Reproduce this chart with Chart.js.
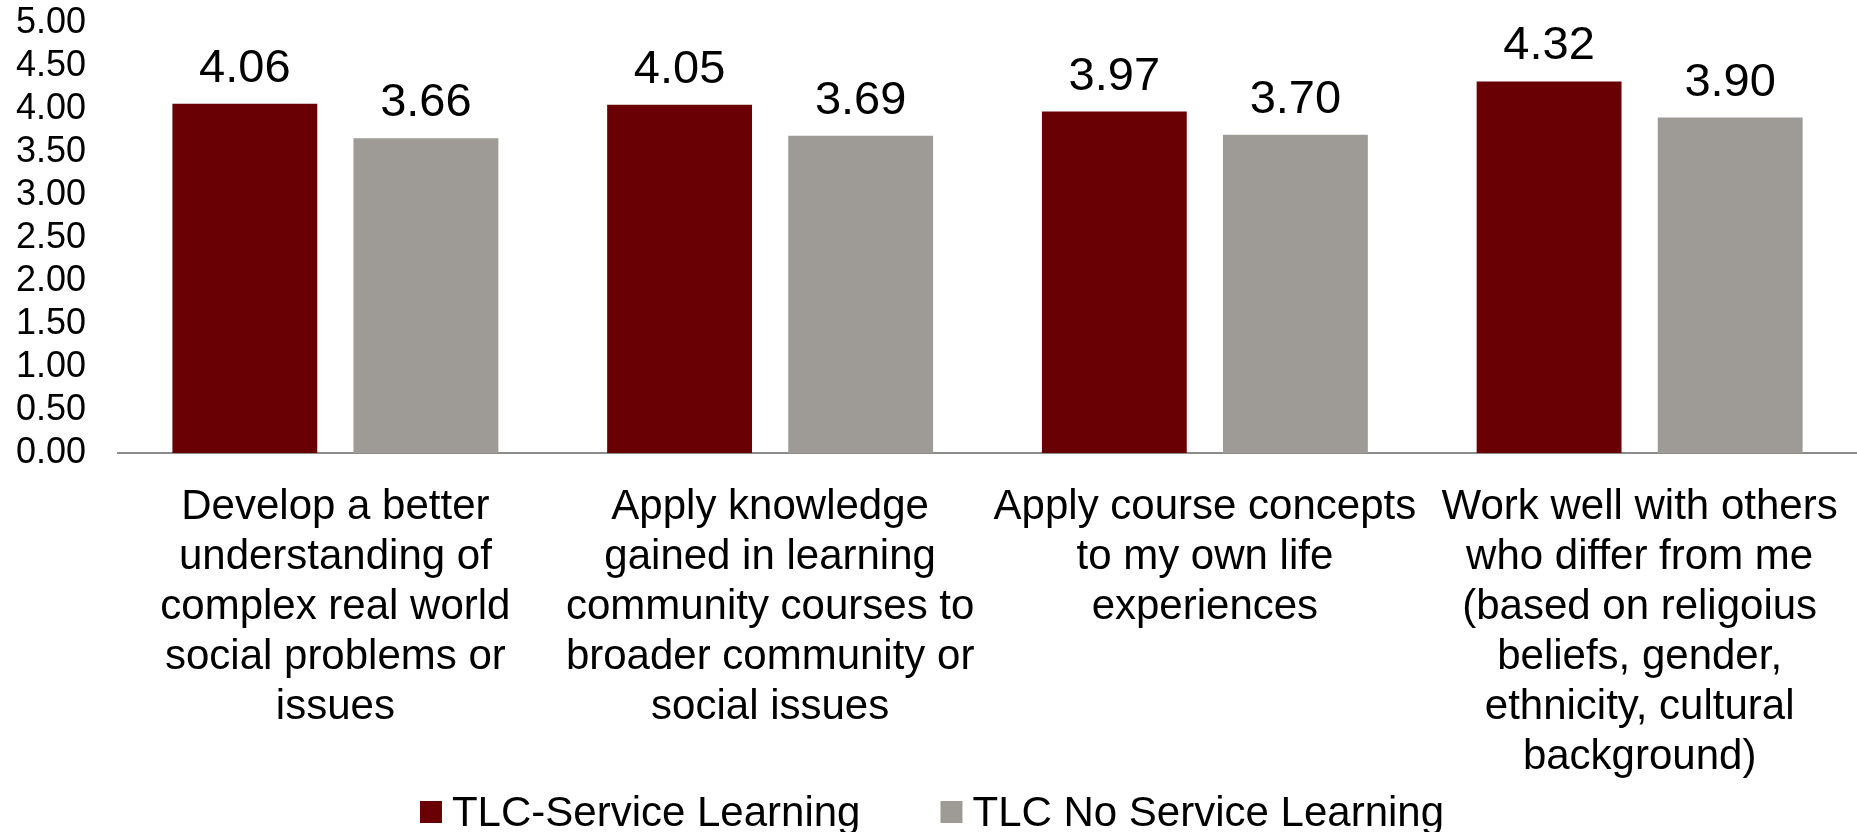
<!DOCTYPE html>
<html>
<head>
<meta charset="utf-8">
<script src="https://cdn.jsdelivr.net/npm/chart.js@4"></script>
<style>
    html, body { margin: 0; padding: 0; background: #fff; }
    #wrap { width: 1857px; height: 832px; }
</style>
</head>
<body>
<div id="wrap"><canvas id="chart" width="1857" height="832"></canvas></div>
<script>
// Datos
const CATEGORIES = [
    ['Develop a better', 'understanding of', 'complex real world', 'social problems or', 'issues'],
    ['Apply knowledge', 'gained in learning', 'community courses to', 'broader community or', 'social issues'],
    ['Apply course concepts', 'to my own life', 'experiences'],
    ['Work well with others', 'who differ from me', '(based on religoius', 'beliefs, gender,', 'ethnicity, cultural', 'background)']
];
const SERIES_NAMES = ['TLC-Service Learning', 'TLC No Service Learning'];
const SERVICE_VALUES = [4.06, 4.05, 3.97, 4.32];
const NO_SERVICE_VALUES = [3.66, 3.69, 3.70, 3.90];
const Y_MIN = 0;
const Y_MAX = 5;
const Y_STEP = 0.5;

// Estilos
const FONT = '"Liberation Sans", Arial, sans-serif';
const COLORS = ['#680004', '#9e9b96'];

// Etiquetas de valor encima de cada barra
const valueLabels = {
    id: 'valueLabels',
    afterDatasetsDraw(chart) {
        const ctx = chart.ctx;
        ctx.save();
        ctx.font = '47px ' + FONT;
        ctx.fillStyle = '#000';
        ctx.textAlign = 'center';
        ctx.textBaseline = 'alphabetic';
        chart.data.datasets.forEach((ds, i) => {
            chart.getDatasetMeta(i).data.forEach((bar, j) => {
                ctx.fillText(ds.data[j].toFixed(2), bar.x, bar.y - 22);
            });
        });
        ctx.restore();
    }
};

// Leyenda abajo, cuadro pequeño y texto pegado
const bottomLegend = {
    id: 'bottomLegend',
    afterDraw(chart) {
        const ctx = chart.ctx;
        const box = 22, gap = 10, spacing = 80;
        const y = 812;
        ctx.save();
        ctx.font = '42px ' + FONT;
        ctx.textBaseline = 'middle';
        ctx.textAlign = 'left';
        const widths = chart.data.datasets.map(ds => box + gap + ctx.measureText(ds.label).width);
        const total = widths.reduce((a, b) => a + b, 0) + spacing * (widths.length - 1);
        let x = 932 - total / 2;
        chart.data.datasets.forEach((ds, i) => {
            ctx.fillStyle = ds.backgroundColor;
            ctx.fillRect(x, y - box / 2, box, box);
            ctx.fillStyle = '#000';
            ctx.fillText(ds.label, x + box + gap, y + 2);
            x += widths[i] + spacing;
        });
        ctx.restore();
    }
};

new Chart(document.getElementById('chart'), {
    type: 'bar',
    data: {
        labels: CATEGORIES,
        datasets: [
            { label: SERIES_NAMES[0], data: SERVICE_VALUES, backgroundColor: COLORS[0] },
            { label: SERIES_NAMES[1], data: NO_SERVICE_VALUES, backgroundColor: COLORS[1] }
        ]
    },
    options: {
        responsive: false,
        animation: false,
        layout: { padding: { top: 23, right: 0, bottom: 0, left: 0 } },
        datasets: {
            bar: { categoryPercentage: 0.833, barPercentage: 0.8 }
        },
        plugins: {
            legend: { display: false },
            tooltip: { enabled: false }
        },
        scales: {
            x: {
                grid: { display: false },
                border: { display: true, color: '#8c8c8c', width: 2 },
                ticks: {
                    color: '#000',
                    padding: 21,
                    maxRotation: 0,
                    autoSkip: false,
                    font: { family: FONT, size: 42, lineHeight: '50px' }
                },
                afterFit(scale) {
                    scale.height = 379;
                    scale.paddingLeft = 0;
                    scale.paddingRight = 0;
                }
            },
            y: {
                min: Y_MIN,
                max: Y_MAX,
                grid: { display: false },
                border: { display: false },
                ticks: {
                    stepSize: Y_STEP,
                    autoSkip: false,
                    color: '#000',
                    padding: 24,
                    font: { family: FONT, size: 36 },
                    callback: v => v.toFixed(2)
                },
                afterFit(scale) {
                    scale.width = 118;
                    scale.paddingTop = 0;
                    scale.paddingBottom = 0;
                }
            }
        }
    },
    plugins: [valueLabels, bottomLegend]
});
</script>
</body>
</html>
